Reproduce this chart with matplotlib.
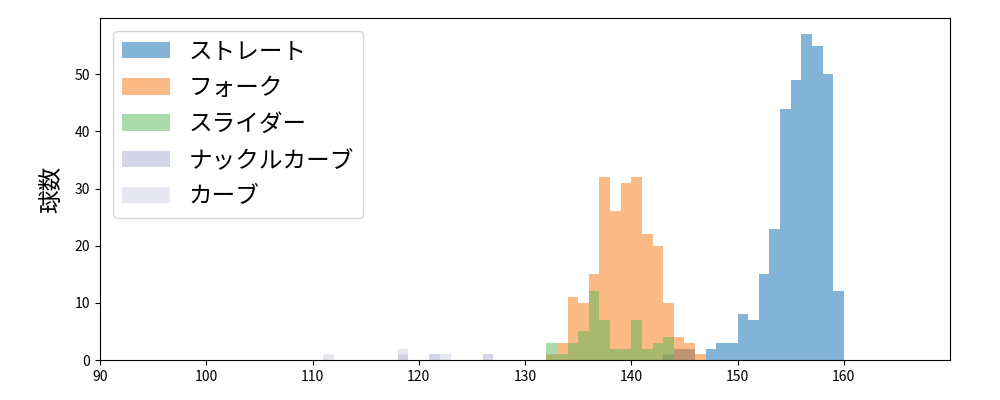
import numpy as np
import matplotlib
matplotlib.use("Agg")
import matplotlib.pyplot as plt

plt.rcParams['font.family'] = ['Noto Sans CJK JP', 'DejaVu Sans']

# pitch speeds (km/h), 1 km/h bins: left edge of each bin and the count in it
pitch_names = ["ストレート", "フォーク", "スライダー", "ナックルカーブ", "カーブ"]

straight_bins = list(range(143, 160))
straight_counts = [1, 2, 2, 0, 2, 3, 3, 8, 7, 15, 23, 44, 49, 57, 55, 50, 12]

fork_bins = list(range(132, 147))
fork_counts = [1, 3, 11, 10, 15, 32, 26, 31, 32, 22, 20, 10, 4, 3, 1]

slider_bins = list(range(132, 144))
slider_counts = [3, 1, 3, 5, 12, 7, 2, 2, 7, 2, 3, 4]

knuckle_bins = [118, 121, 126]
knuckle_counts = [1, 1, 1]

curve_bins = [111, 118, 122]
curve_counts = [1, 2, 1]

colors = ["#0969af", "#fb770f", "#59b759", "#adadd5", "#d1d1e5"]

all_bins = [straight_bins, fork_bins, slider_bins, knuckle_bins, curve_bins]
all_counts = [straight_counts, fork_counts, slider_counts, knuckle_counts, curve_counts]

fig = plt.figure(figsize=(10, 4), dpi=100)
ax = fig.add_axes([0.1, 0.1, 0.85, 0.855])

for name, b, c, col in zip(pitch_names, all_bins, all_counts, colors):
    b = np.array(b)
    edges = np.arange(b.min(), b.max() + 2)
    ax.hist(b + 0.5, bins=edges, weights=c, color=col, alpha=0.5, label=name)

ax.set_xlim(90, 170)
ax.set_xticks(range(90, 161, 10))
ax.set_ylabel("球数", fontsize=17, labelpad=8)
ax.tick_params(labelsize=10)
ax.legend(loc="upper left", fontsize=17, borderaxespad=0.55, labelspacing=0.56)

fig.savefig("out.png", dpi=100)
